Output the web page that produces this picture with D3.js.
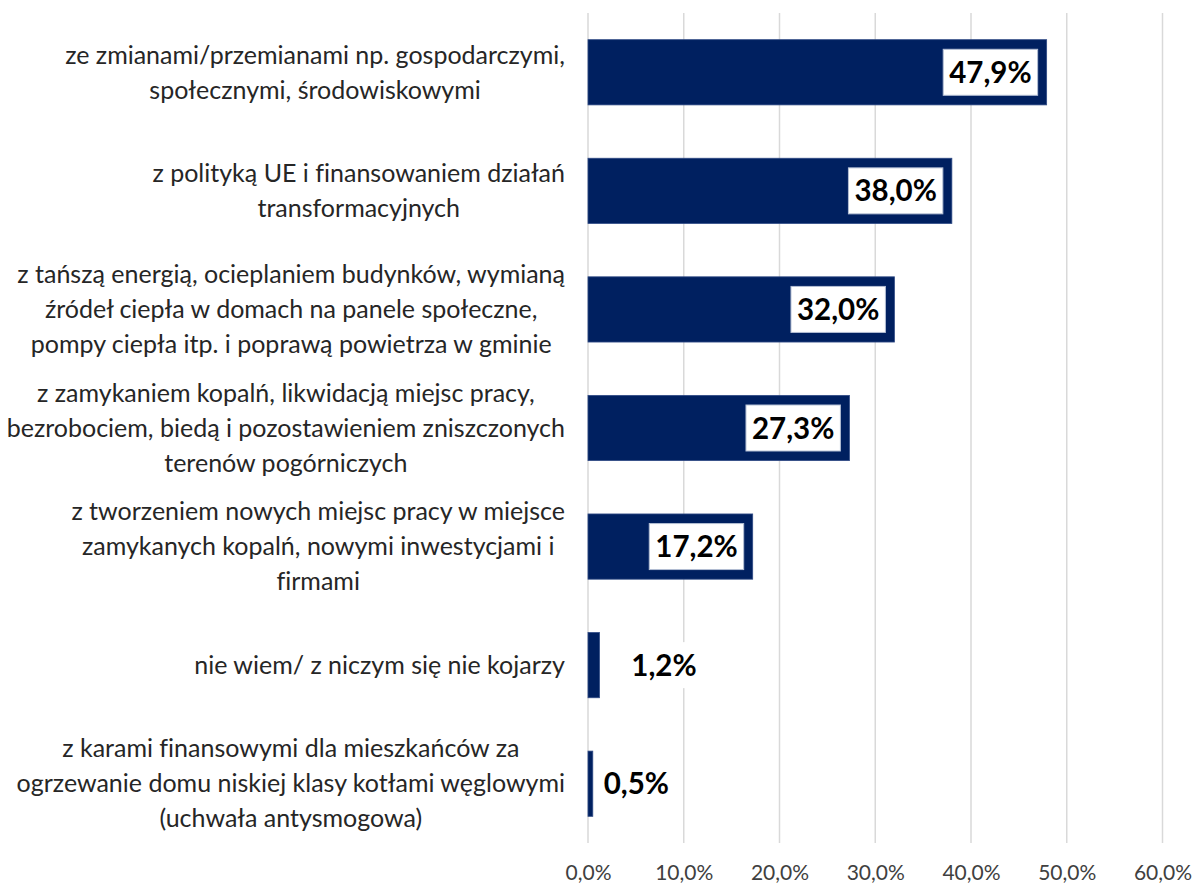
<!DOCTYPE html>
<html><head><meta charset="utf-8">
<script src="https://cdn.jsdelivr.net/npm/d3@7"></script>
<style>
html,body{margin:0;padding:0;background:#fff;}
svg{display:block;font-family:Lato,"Noto Sans",sans-serif;font-variant-ligatures:none;font-feature-settings:"liga" 0;}
</style></head>
<body>
<svg id="c" width="1194" height="885"></svg>
<script>
const categories = [
  ["ze zmianami/przemianami np. gospodarczymi,", "społecznymi, środowiskowymi"],
  ["z polityką UE i finansowaniem działań", "transformacyjnych"],
  ["z tańszą energią, ocieplaniem budynków, wymianą", "źródeł ciepła w domach na panele społeczne,", "pompy ciepła itp. i poprawą powietrza w gminie"],
  ["z zamykaniem kopalń, likwidacją miejsc pracy,", "bezrobociem, biedą i pozostawieniem zniszczonych", "terenów pogórniczych"],
  ["z tworzeniem nowych miejsc pracy w miejsce", "zamykanych kopalń, nowymi inwestycjami i", "firmami"],
  ["nie wiem/ z niczym się nie kojarzy"],
  ["z karami finansowymi dla mieszkańców za", "ogrzewanie domu niskiej klasy kotłami węglowymi", "(uchwała antysmogowa)"]
];
const values = [47.9, 38.0, 32.0, 27.3, 17.2, 1.2, 0.5];
const xTicks = [0, 10, 20, 30, 40, 50, 60];

const fmt = v => v.toFixed(1).replace(".", ",") + "%";
const svg = d3.select("#c");
const ids = categories.map((c, i) => i);

const x = d3.scaleLinear().domain([0, 60]).range([588, 1162.5]);
const y = d3.scaleBand().domain(ids).range([13, 843]).paddingInner(0.45).paddingOuter(0.225);

// gridlines
svg.append("g").selectAll("line").data(xTicks).join("line")
  .attr("x1", d => x(d)).attr("x2", d => x(d))
  .attr("y1", 13).attr("y2", 843)
  .attr("stroke", "#d9d9d9").attr("stroke-width", 1.5);

// x axis labels
const xAxis = d3.axisBottom(x).tickValues(xTicks).tickFormat(fmt).tickSize(0).tickPadding(0);
const gx = svg.append("g").attr("transform", "translate(0,873)").call(xAxis);
gx.select(".domain").remove();
gx.selectAll("text").attr("dy", "0.35em").attr("y", 0)
  .attr("font-family", "Lato").attr("font-size", 21).attr("fill", "#404040");

// bars
svg.append("g").selectAll("rect").data(values).join("rect")
  .attr("x", x(0)).attr("y", (d, i) => y(i))
  .attr("width", d => x(d) - x(0)).attr("height", y.bandwidth())
  .attr("fill", "#002060").attr("stroke", "#2f4a85").attr("stroke-width", 0.8);

// category labels
const labelRight = 565, lineH = 35, labelFont = 25;
const gl = svg.append("g").attr("font-size", labelFont).attr("fill", "#262626");
categories.forEach((lines, i) => {
  const g = gl.append("g");
  const cy = y(i) + y.bandwidth() / 2;
  const ts = lines.map((t, k) => g.append("text").text(t)
    .attr("text-anchor", "middle").attr("dy", "0.35em")
    .attr("y", cy + (k - (lines.length - 1) / 2) * lineH));
  const w = d3.max(ts, t => t.node().getComputedTextLength());
  ts.forEach(t => t.attr("x", labelRight - w / 2));
});

// value labels
const smallNudge = {5: 64.5, 6: 43.5};
const gv = svg.append("g");
values.forEach((v, i) => {
  const cy = y(i) + y.bandwidth() / 2;
  const g = gv.append("g");
  const t = g.append("text").text(fmt(v)).attr("font-weight", "bold")
    .attr("font-size", 29.5).attr("fill", "#000").attr("text-anchor", "middle")
    .attr("dy", "0.36em").attr("y", cy);
  const w = t.node().getComputedTextLength();
  const bw = w + 12, bh = 46;
  let cx;
  if (v > 10) {
    cx = x(v) - 9 - bw / 2;
    g.insert("rect", "text").attr("x", cx - bw / 2).attr("y", cy - bh / 2)
      .attr("width", bw).attr("height", bh).attr("fill", "#fff")
      .attr("stroke", "#b4bfd4").attr("stroke-width", 1);
  } else {
    cx = x(v) + smallNudge[i];
    if (i === 5) g.insert("rect", "text").attr("x", cx - bw / 2).attr("y", cy - bh / 2)
      .attr("width", bw).attr("height", bh).attr("fill", "#fff");
  }
  t.attr("x", cx);
});
</script>
</body></html>
